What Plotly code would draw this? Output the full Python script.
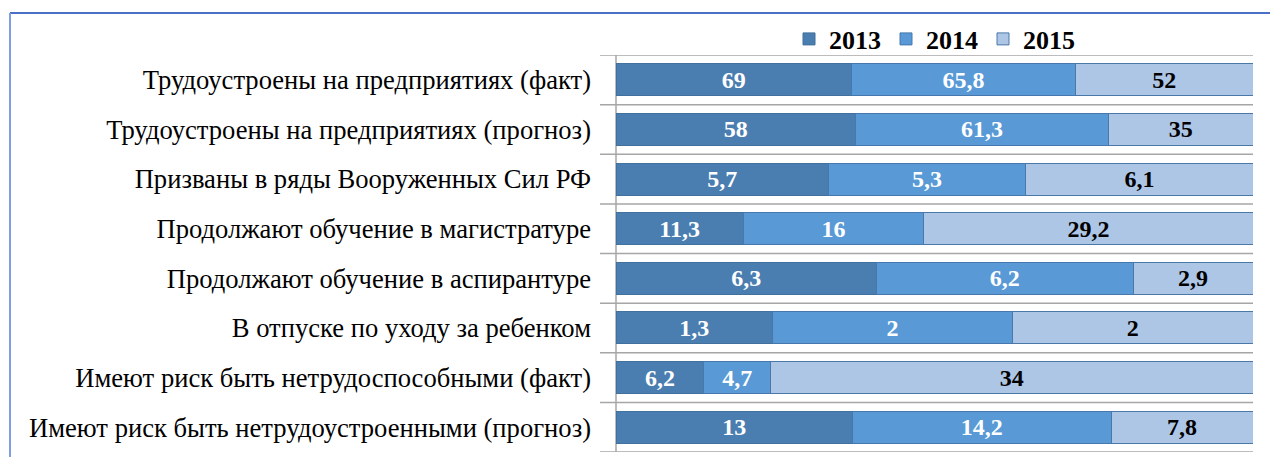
import plotly.graph_objects as go

categories = [
    "Трудоустроены на предприятиях (факт)",
    "Трудоустроены на предприятиях (прогноз)",
    "Призваны в ряды Вооруженных Сил РФ",
    "Продолжают обучение в магистратуре",
    "Продолжают обучение в аспирантуре",
    "В отпуске по уходу за ребенком",
    "Имеют риск быть нетрудоспособными (факт)",
    "Имеют риск быть нетрудоустроенными (прогноз)",
]
years = ["2013", "2014", "2015"]
v2013 = [69, 58, 5.7, 11.3, 6.3, 1.3, 6.2, 13]
v2014 = [65.8, 61.3, 5.3, 16, 6.2, 2, 4.7, 14.2]
v2015 = [52, 35, 6.1, 29.2, 2.9, 2, 34, 7.8]

series = [v2013, v2014, v2015]
colors = ["#4a7db0", "#5899d6", "#adc6e6"]
edge = ["#41719c", "#4678ad", "#4a78a8"]
label_colors = ["white", "white", "black"]

def fmt(v):
    return ("%g" % v).replace(".", ",")

fig = go.Figure()
for name, vals, c, ec, lc in zip(years, series, colors, edge, label_colors):
    fig.add_trace(go.Bar(
        y=categories, x=vals, name=name, orientation="h",
        marker=dict(color=c, line=dict(color=ec, width=1)),
        text=[fmt(v) for v in vals], textposition="inside", textangle=0,
        insidetextanchor="middle",
        textfont=dict(family="Liberation Serif", size=24, color=lc, weight="bold"),
        constraintext="none",
    ))

W, H = 1270, 457
ml, mr, mt, mb = 616, 17, 55, 5
pw, ph = W - ml - mr, H - mt - mb
bx = (10 - ml) / pw
by = 1 + (mt - 13) / ph
gx0 = (600 - ml) / pw

shapes = [
    dict(type="line", xref="paper", yref="paper", x0=bx, x1=1.2, y0=by, y1=by,
         line=dict(color="#4a6fc4", width=2)),
    dict(type="line", xref="paper", yref="paper", x0=bx, x1=bx, y0=by, y1=-0.2,
         line=dict(color="#7fa0e0", width=2)),
    dict(type="line", xref="paper", yref="paper", x0=0, x1=0, y0=0, y1=1,
         line=dict(color="#a6a6a6", width=1.5), layer="below"),
]
for i in range(len(categories) + 1):
    shapes.append(dict(type="line", xref="paper", yref="y", x0=gx0, x1=1,
                       y0=i - 0.5, y1=i - 0.5,
                       line=dict(color="#a6a6a6", width=1.5), layer="below"))

fig.update_layout(
    width=W, height=H,
    barmode="stack", barnorm="percent", bargap=0.355,
    margin=dict(l=ml, r=mr, t=mt, b=mb),
    paper_bgcolor="white", plot_bgcolor="white",
    font=dict(family="Liberation Serif", color="black"),
    showlegend=True,
    legend=dict(orientation="h", x=0.5, xanchor="center", y=1.0 + 16 / ph, yanchor="middle",
                bgcolor="rgba(0,0,0,0)",
                font=dict(family="Liberation Serif", size=26, weight="bold"),
                itemwidth=30, traceorder="normal"),
    xaxis=dict(visible=False, range=[0, 100], fixedrange=True),
    yaxis=dict(showgrid=False, ticks="", ticklabelstandoff=24,
               showline=False, range=[len(categories) - 0.5, -0.5],
               tickfont=dict(family="Liberation Serif", size=26.6, color="black")),
    shapes=shapes,
)

fig.write_html("out.html", config={"displayModeBar": False},
               post_script="document.body.style.margin='0';")
